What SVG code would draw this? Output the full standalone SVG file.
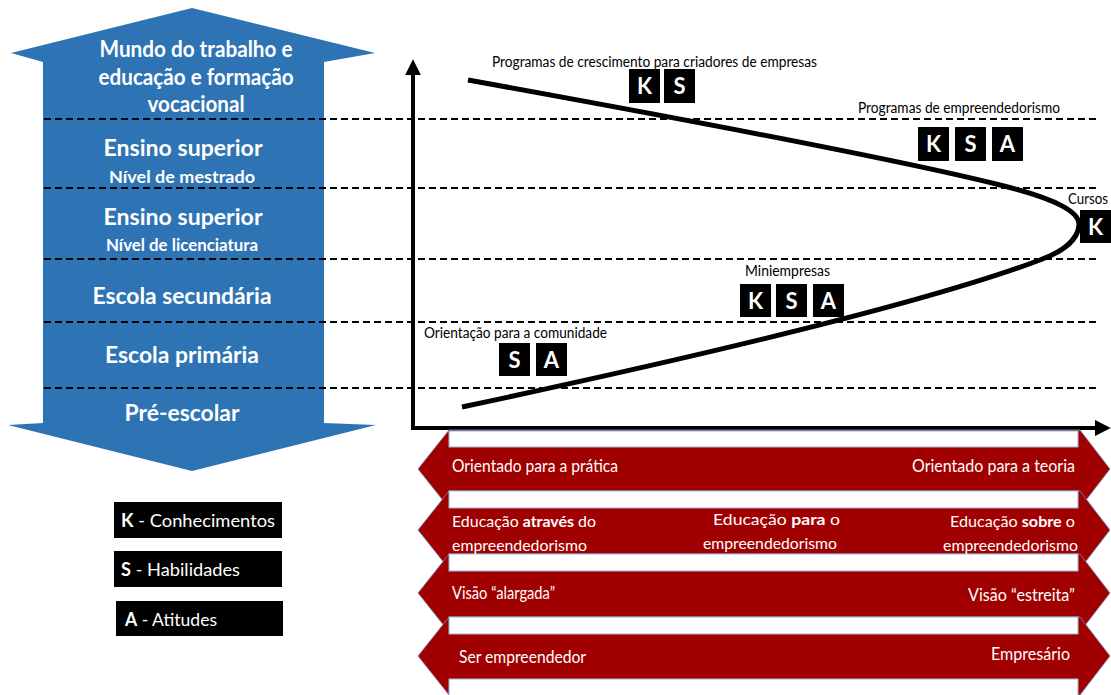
<svg xmlns="http://www.w3.org/2000/svg" width="1111" height="695" viewBox="0 0 1111 695">
  <style>
    text { font-family: Lato, "Liberation Sans", sans-serif; }
    .lvl { font-weight: bold; fill: #fff; text-anchor: middle; font-size: 23px; }
    .sub { font-weight: bold; fill: #fff; text-anchor: middle; font-size: 17.5px; }
    .dash { stroke: #000; stroke-width: 2; stroke-dasharray: 7 4; fill: none; }
    .box { fill: #000; }
    .ltr { font-weight: bold; font-size: 22px; fill: #fff; text-anchor: middle; }
    .lbl { font-size: 14.5px; fill: #000; }
    .band { fill: #A10000; stroke: #6F8FBF; stroke-width: 0.8; }
    .gap { fill: #fff; stroke: #9DB6D8; stroke-width: 1; }
    .bt { fill: #fff; font-size: 17px; }
    .bt2 { fill: #fff; font-size: 16px; }
    .leg { fill: #fff; font-size: 18px; }
    .axis { stroke: #000; stroke-width: 4; fill: none; }
  </style>
  <defs>
    <marker id="arrowhead" viewBox="0 0 10 10" refX="2" refY="5" markerWidth="4" markerHeight="4" markerUnits="strokeWidth" orient="auto">
      <path d="M0,0 L10,5 L0,10 Z" fill="#000"/>
    </marker>
  </defs>

  <!-- education levels: double-headed vertical arrow -->
  <g id="levels">
    <path d="M192,8 L375,53 L324,62 L324,423 L376,425 L192,471 L8,425 L43,423 L43,62 L11,53 Z" fill="#2E74B5"/>
    <text class="lvl" x="196" y="57" textLength="193" lengthAdjust="spacingAndGlyphs">Mundo do trabalho e</text>
    <text class="lvl" x="196" y="85" textLength="195" lengthAdjust="spacingAndGlyphs">educação e formação</text>
    <text class="lvl" x="196" y="112" textLength="97" lengthAdjust="spacingAndGlyphs">vocacional</text>
    <text class="lvl" x="183" y="156" textLength="159" lengthAdjust="spacingAndGlyphs">Ensino superior</text>
    <text class="sub" x="182" y="183" textLength="146" lengthAdjust="spacingAndGlyphs">Nível de mestrado</text>
    <text class="lvl" x="183" y="225" textLength="159" lengthAdjust="spacingAndGlyphs">Ensino superior</text>
    <text class="sub" x="182" y="251" textLength="152" lengthAdjust="spacingAndGlyphs">Nível de licenciatura</text>
    <text class="lvl" x="182" y="304" textLength="179" lengthAdjust="spacingAndGlyphs">Escola secundária</text>
    <text class="lvl" x="182" y="363" textLength="154" lengthAdjust="spacingAndGlyphs">Escola primária</text>
    <text class="lvl" x="182" y="421" textLength="115" lengthAdjust="spacingAndGlyphs">Pré-escolar</text>
  </g>

  <!-- level boundaries -->
  <g id="boundaries">
    <line class="dash" x1="44" y1="119" x2="1100" y2="119"/>
    <line class="dash" x1="44" y1="188" x2="1100" y2="188"/>
    <line class="dash" x1="44" y1="259" x2="1100" y2="259"/>
    <line class="dash" x1="44" y1="322" x2="1100" y2="322"/>
    <line class="dash" x1="44" y1="388" x2="1100" y2="388"/>
  </g>

  <!-- axes and curve -->
  <g id="connectors">
    <line class="axis" x1="413" y1="428" x2="413" y2="72" marker-end="url(#arrowhead)"/>
    <line class="axis" x1="411" y1="428" x2="1098" y2="428" marker-end="url(#arrowhead)"/>
    <path d="M468,80 C700,122 900,160 1000,185 C1060,200 1080,213 1079,225 C1078,240 1062,252 1040,260 C960,290 800,335 462,407" fill="none" stroke="#000" stroke-width="5"/>
  </g>

  <g id="programas-crescimento">
    <text class="lbl" x="492" y="67" textLength="325" lengthAdjust="spacingAndGlyphs">Programas de crescimento para criadores de empresas</text>
    <rect class="box" x="629" y="69" width="31" height="34"/>
    <text class="ltr" x="644.5" y="94">K</text>
    <rect class="box" x="664" y="69" width="31" height="34"/>
    <text class="ltr" x="679.5" y="94">S</text>
  </g>

  <g id="programas-empreendedorismo">
    <text class="lbl" x="858" y="113" textLength="202" lengthAdjust="spacingAndGlyphs">Programas de empreendedorismo</text>
    <rect class="box" x="918" y="127" width="31" height="34"/>
    <text class="ltr" x="933.5" y="152">K</text>
    <rect class="box" x="955" y="127" width="31" height="34"/>
    <text class="ltr" x="970.5" y="152">S</text>
    <rect class="box" x="992" y="127" width="31" height="34"/>
    <text class="ltr" x="1007.5" y="152">A</text>
  </g>

  <g id="cursos">
    <text class="lbl" x="1068" y="204" textLength="40" lengthAdjust="spacingAndGlyphs">Cursos</text>
    <rect class="box" x="1080" y="210" width="31" height="33"/>
    <text class="ltr" x="1095.5" y="235">K</text>
  </g>

  <g id="miniempresas">
    <text class="lbl" x="745" y="276" textLength="85" lengthAdjust="spacingAndGlyphs">Miniempresas</text>
    <rect class="box" x="740" y="284" width="31" height="33"/>
    <text class="ltr" x="755.5" y="309">K</text>
    <rect class="box" x="776" y="284" width="31" height="33"/>
    <text class="ltr" x="791.5" y="309">S</text>
    <rect class="box" x="813" y="284" width="31" height="33"/>
    <text class="ltr" x="828.5" y="309">A</text>
  </g>

  <g id="orientacao-comunidade">
    <text class="lbl" x="424" y="338" textLength="183" lengthAdjust="spacingAndGlyphs">Orientação para a comunidade</text>
    <rect class="box" x="499" y="343" width="31" height="33"/>
    <text class="ltr" x="514.5" y="368">S</text>
    <rect class="box" x="536" y="343" width="31" height="33"/>
    <text class="ltr" x="551.5" y="368">A</text>
  </g>

  <!-- legend -->
  <g id="legend-k">
    <rect class="box" x="114" y="502" width="168" height="36"/>
    <text class="leg" x="121" y="527" textLength="154" lengthAdjust="spacingAndGlyphs"><tspan font-weight="bold">K</tspan> - Conhecimentos</text>
  </g>
  <g id="legend-s">
    <rect class="box" x="114" y="551" width="168" height="36"/>
    <text class="leg" x="121" y="576" textLength="119" lengthAdjust="spacingAndGlyphs"><tspan font-weight="bold">S</tspan> - Habilidades</text>
  </g>
  <g id="legend-a">
    <rect class="box" x="116" y="601" width="167" height="35"/>
    <text class="leg" x="125" y="626" textLength="92" lengthAdjust="spacingAndGlyphs"><tspan font-weight="bold">A</tspan> - Atitudes</text>
  </g>

  <!-- horizontal spectrum bands -->
  <g id="bands">
    <path class="band" d="M418,469 L449,430 L1080,430 L1110,469 L1080,508 L449,508 Z"/>
    <path class="band" d="M418,530 L449,491 L1080,491 L1110,530 L1080,569 L449,569 Z"/>
    <path class="band" d="M418,593 L449,554 L1080,554 L1110,593 L1080,632 L449,632 Z"/>
    <path class="band" d="M418,656 L449,617 L1080,617 L1110,656 L1080,695 L449,695 Z"/>
    <rect class="gap" x="449" y="431" width="629" height="16"/>
    <rect class="gap" x="449" y="491" width="629" height="17"/>
    <rect class="gap" x="449" y="554" width="629" height="17"/>
    <rect class="gap" x="449" y="617" width="629" height="17"/>
    <rect class="gap" x="449" y="679" width="629" height="17"/>
  </g>

  <g id="band-pratica-teoria">
    <text class="bt" x="452" y="472" textLength="166" lengthAdjust="spacingAndGlyphs">Orientado para a prática</text>
    <text class="bt" x="912" y="472" textLength="163" lengthAdjust="spacingAndGlyphs">Orientado para a teoria</text>
  </g>
  <g id="band-educacao">
    <text class="bt2" x="452" y="527" textLength="144" lengthAdjust="spacingAndGlyphs">Educação <tspan font-weight="bold">através</tspan> do</text>
    <text class="bt2" x="452" y="551" textLength="135" lengthAdjust="spacingAndGlyphs">empreendedorismo</text>
    <text class="bt2" x="713" y="525" textLength="127" lengthAdjust="spacingAndGlyphs">Educação <tspan font-weight="bold">para</tspan> o</text>
    <text class="bt2" x="703" y="549" textLength="134" lengthAdjust="spacingAndGlyphs">empreendedorismo</text>
    <text class="bt2" x="950" y="527" textLength="125" lengthAdjust="spacingAndGlyphs">Educação <tspan font-weight="bold">sobre</tspan> o</text>
    <text class="bt2" x="943" y="551" textLength="135" lengthAdjust="spacingAndGlyphs">empreendedorismo</text>
  </g>
  <g id="band-visao">
    <text class="bt" x="452" y="599" textLength="103" lengthAdjust="spacingAndGlyphs">Visão “alargada”</text>
    <text class="bt" x="968" y="601" textLength="107" lengthAdjust="spacingAndGlyphs">Visão “estreita”</text>
  </g>
  <g id="band-empreendedor">
    <text class="bt" x="459" y="663" textLength="127" lengthAdjust="spacingAndGlyphs">Ser empreendedor</text>
    <text class="bt" x="991" y="660" textLength="79" lengthAdjust="spacingAndGlyphs">Empresário</text>
  </g>
</svg>
